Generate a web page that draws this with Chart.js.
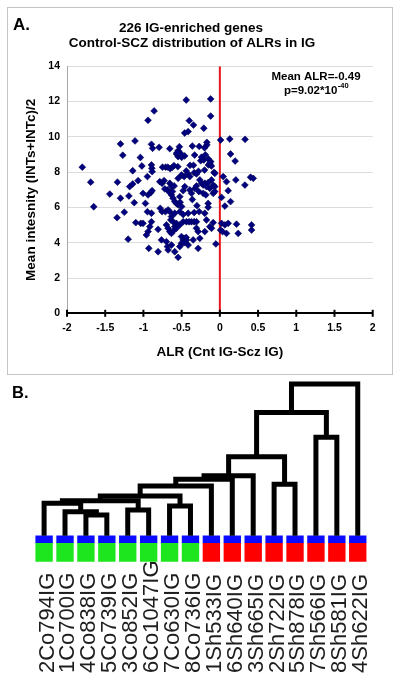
<!DOCTYPE html>
<html><head><meta charset="utf-8">
<script src="https://cdn.jsdelivr.net/npm/chart.js@4.4.1/dist/chart.umd.min.js"></script>
<style>
html,body{margin:0;padding:0;background:#fff;}
body{width:400px;height:682px;position:relative;overflow:hidden;}
#frameA{position:absolute;left:7px;top:7px;width:386px;height:368px;border:1px solid #c4c4c4;box-sizing:border-box;}
#ca{position:absolute;left:0;top:0;}
#cb{position:absolute;left:0;top:380px;}
</style></head><body>
<div id="frameA"></div>
<canvas id="ca" width="400" height="380"></canvas>
<canvas id="cb" width="400" height="302"></canvas>
<script>
// ---------- Panel A data: ALR (Cnt IG - Scz IG) vs mean intensity ----------
const alr = [
-1.30,-1.11,-1.27,-1.80,-1.14,-1.04,-0.44,-0.86,-0.94,-0.40,-0.345,-0.21,-0.415,-0.46,-0.895,-0.88,-0.795,-0.655,-0.53,-0.546,
-0.515,-0.567,-0.546,-0.50,-0.46,-0.36,-0.27,-0.17,-0.17,-0.20,-0.33,-0.19,-1.02,-0.895,-0.89,-0.75,-0.71,-0.68,-0.65,-0.62,
-0.25,-0.21,-0.12,-0.12,0.01,0.13,0.33,0.14,0.20,-0.15,-0.12,-0.20,-0.075,-0.15,-0.11,-0.39,-0.345,-0.55,-0.44,-0.28,
-0.886,-0.60,-0.13,
-1.69,-1.34,-1.18,-1.14,-1.07,-1.44,-1.30,-1.19,-1.12,-1.65,-1.25,-1.345,-1.10,-1.20,
-0.948,-0.786,-0.756,-0.730,-0.655,-0.633,-0.598,-0.546,-0.502,-0.467,-0.415,-0.393,-0.336,-0.306,-0.262,-0.240,-0.218,
-1.005,-0.939,-0.904,-0.887,-0.686,-0.655,-0.633,-0.612,-0.590,-0.568,-0.546,-0.524,-0.480,-0.459,-0.393,-0.371,-0.327,-0.306,-0.275,
-0.974,
-0.948,-0.895,-1.035,-1.005,-0.895,-0.917,-0.808,-0.939,-0.961,
-0.756,-0.712,-0.677,-0.655,-0.590,-0.524,
-0.633,-0.642,-0.612,-0.568,-0.480,-0.437,-0.402,-0.371,-0.336,-0.306,-0.415,-0.336,-0.271,
-0.699,-0.677,-0.655,-0.633,-0.598,-0.590,-0.524,-0.568,
-0.306,-0.284,
-0.764,-0.699,-0.686,-0.633,
-0.502,-0.480,-0.467,-0.459,-0.437,-0.502,-0.524,-0.415,
-0.930,-0.808,-0.677,-0.590,-0.546,
-0.349,-0.284,
-0.066,0.044,0.087,0.209,0.328,0.402,0.437,
-0.197,-0.153,-0.109,-0.087,-0.066,-0.131,-0.175,
-0.218,-0.183,-0.087,-0.066,
0.022,0.109,0.140,0.066,
-0.153,-0.153,-0.197,-0.175,
-0.087,-0.131,-0.109,-0.197,
0.022,0.066,0.109,0.009,0.035,0.087,0.218,0.415,0.415,0.240,
-0.262,-0.052,
-0.53,-0.56,-0.52,-0.50,-0.48,-0.44,-0.47,-0.62,-0.36,-0.78,-0.72,-0.30,-0.24
];
const meanIntensity = [
9.60,9.77,8.96,8.28,8.08,8.83,12.09,11.47,10.94,10.92,10.67,10.49,10.30,10.22,9.58,9.35,9.41,9.33,9.44,9.22,
9.07,9.03,8.88,8.84,8.92,9.48,9.46,9.69,9.54,9.38,8.97,8.98,8.35,8.41,8.22,8.28,8.28,8.28,8.20,8.28,
8.65,8.69,12.15,11.18,9.82,9.88,9.86,9.03,8.63,8.75,8.60,8.12,7.99,8.41,8.35,8.39,8.39,8.31,8.07,8.05,
8.03,8.37,8.52,
7.43,7.43,7.18,7.33,7.52,6.76,6.52,6.65,6.27,6.04,5.73,5.42,5.14,4.20,
7.75,7.46,7.37,7.52,7.37,7.18,7.22,7.65,7.84,7.75,7.90,7.75,7.97,7.90,7.56,7.37,7.27,
6.80,6.71,6.84,6.95,6.99,6.84,6.71,6.52,6.33,6.23,6.14,6.61,6.95,7.18,6.99,6.80,7.08,7.22,6.90,
6.23,
5.76,5.67,5.10,5.10,5.19,4.91,4.76,4.63,4.44,
5.76,5.76,5.86,5.76,5.67,5.76,
5.48,5.29,5.19,5.10,5.19,5.19,5.19,5.19,5.19,5.19,5.67,5.71,5.76,
5.01,4.82,4.63,4.53,4.72,4.91,5.01,4.82,
4.82,4.63,
4.16,4.06,3.78,3.87,
4.35,4.16,4.25,4.06,4.16,3.97,3.78,3.87,
3.68,3.49,3.59,3.49,3.17,
4.16,3.68,
7.93,7.75,7.46,7.56,7.27,7.71,7.65,
7.37,7.41,7.56,7.27,7.18,7.08,7.18,
6.80,6.71,6.80,6.90,
6.57,6.95,6.33,6.08,
6.23,6.01,5.67,5.29,
5.14,4.91,4.82,4.63,
5.10,5.01,5.10,4.72,4.63,4.53,5.05,5.01,4.72,4.53,
4.25,3.93,
8.98,9.10,6.30,6.05,5.60,4.30,4.00,6.90,6.45,5.95,7.05,6.10,8.85
];
const referenceALR = 0;          // red reference line position
const meanALR = -0.49;
const pValueMantissa = '9.02';
const pValueExponent = '-40';

// ---------- Panel B data: hierarchical clustering of samples ----------
const sampleNames = ['2Co794IG','1Co700IG','4Co838IG','5Co739IG','3Co852IG','6Co1047IG','7Co630IG','8Co736IG',
                     '1Sh533IG','6Sh640IG','3Sh665IG','2Sh722IG','5Sh878IG','7Sh566IG','8Sh581IG','4Sh622IG'];
const sampleGroup = ['Control','Control','Control','Control','Control','Control','Control','Control',
                     'SCZ','SCZ','SCZ','SCZ','SCZ','SCZ','SCZ','SCZ'];
// merges: node ids 0..15 are leaves, each merge creates node 16+k
const mergeLeft   = [2, 1, 0, 4, 6, 18, 21, 22, 23, 24, 11, 25, 13, 27, 29];
const mergeRight  = [3, 16, 17, 5, 7, 19, 20, 8, 9, 10, 12, 26, 14, 28, 15];
const mergeHeight = [0.136, 0.158, 0.214, 0.169, 0.196, 0.231, 0.262, 0.328, 0.372, 0.396, 0.339, 0.521, 0.649, 0.813, 1.0];

const FONT = '"Liberation Sans", Arial, Helvetica, sans-serif';

// ---------- Panel A ----------
const panelAText = {
  id: 'panelAText',
  afterDraw(chart) {
    const ctx = chart.ctx;
    const xs = chart.scales.x;
    const bottom = chart.chartArea.bottom;
    ctx.save();
    // cross tick marks on the x axis
    ctx.strokeStyle = '#000'; ctx.lineWidth = 2;
    xs.ticks.forEach(t => {
      const px = xs.getPixelForValue(t.value);
      ctx.beginPath(); ctx.moveTo(px, bottom - 3.5); ctx.lineTo(px, bottom + 3.5); ctx.stroke();
    });
    ctx.fillStyle = '#000';
    ctx.textBaseline = 'alphabetic';
    ctx.textAlign = 'left';
    ctx.font = 'bold 17px ' + FONT;
    ctx.fillText('A.', 13, 30);
    ctx.textAlign = 'center';
    ctx.textBaseline = 'middle';
    ctx.font = 'bold 13.5px ' + FONT;
    ctx.fillText('226 IG-enriched genes', 191, 28);
    ctx.fillText('Control-SCZ distribution of ALRs in IG', 192, 43);
    ctx.font = 'bold 11.5px ' + FONT;
    ctx.fillText('Mean ALR=' + meanALR, 316, 77);
    const main = 'p=' + pValueMantissa + '*10';
    const w1 = ctx.measureText(main).width;
    ctx.font = 'bold 7.5px ' + FONT;
    const w2 = ctx.measureText(pValueExponent).width;
    const start = 316 - (w1 + w2) / 2;
    ctx.textAlign = 'left';
    ctx.font = 'bold 11.5px ' + FONT;
    ctx.fillText(main, start, 91);
    ctx.font = 'bold 7.5px ' + FONT;
    ctx.fillText(pValueExponent, start + w1 + 0.5, 86);
    ctx.restore();
  }
};

new Chart(document.getElementById('ca'), {
  type: 'scatter',
  data: {
    datasets: [
      {
        label: 'IG-enriched genes',
        data: alr.map((x, i) => ({ x, y: meanIntensity[i] })),
        pointStyle: 'rectRot', pointRadius: 3.4, pointHoverRadius: 3.4,
        backgroundColor: '#000080', borderColor: '#000050', borderWidth: 0.6,
        order: 0
      },
      {
        type: 'line', label: 'ALR = 0',
        data: [{ x: referenceALR, y: 0 }, { x: referenceALR, y: 14 }],
        borderColor: '#e8141b', borderWidth: 2, pointRadius: 0, showLine: true, fill: false,
        order: 1
      }
    ]
  },
  options: {
    responsive: false, animation: false, events: [],
    layout: { padding: { left: 23, right: 27.3, top: 66.3, bottom: 19.9 } },
    plugins: { legend: { display: false }, tooltip: { enabled: false }, title: { display: false } },
    scales: {
      x: {
        type: 'linear', min: -2, max: 2,
        ticks: { stepSize: 0.5, color: '#000', padding: 9, font: { family: FONT, size: 10.5, weight: 'bold' },
                 callback: v => String(Math.round(v * 10) / 10) },
        grid: { display: false, drawTicks: false },
        border: { color: '#000', width: 2 },
        title: { display: true, text: 'ALR (Cnt IG-Scz IG)', color: '#000', padding: 0,
                 font: { family: FONT, size: 13.5, weight: 'bold' } },
        afterFit(s) { s.height = 46.8; }
      },
      y: {
        type: 'linear', min: 0, max: 14,
        ticks: { stepSize: 2, color: '#000', padding: 7, font: { family: FONT, size: 10.5, weight: 'bold' },
                 callback: v => String(Math.round(v)) },
        grid: { color: '#dcdcdc', lineWidth: 1, drawTicks: false },
        border: { color: '#a8a8a8', width: 1 },
        title: { display: true, text: 'Mean intesnity (INTs+INTc)/2', color: '#000', padding: 0,
                 font: { family: FONT, size: 13.5, weight: 'bold' } },
        afterFit(s) { s.width = 44; }
      }
    }
  },
  plugins: [panelAText]
});

// ---------- Panel B ----------
const nodeX = sampleNames.map((_, i) => i);
const nodeH = sampleNames.map(() => 0);
mergeLeft.forEach((l, k) => {
  const r = mergeRight[k];
  nodeX.push((nodeX[l] + nodeX[r]) / 2);
  nodeH.push(mergeHeight[k]);
});
const linkDatasets = mergeLeft.map((l, k) => {
  const r = mergeRight[k], h = mergeHeight[k];
  return {
    type: 'line', label: 'link ' + k,
    data: [{ x: nodeX[l], y: nodeH[l] }, { x: nodeX[l], y: h }, { x: nodeX[r], y: h }, { x: nodeX[r], y: nodeH[r] }],
    borderColor: '#000', borderWidth: 5, pointRadius: 0, tension: 0, fill: false, showLine: true,
    borderJoinStyle: 'miter', borderCapStyle: 'butt', clip: false
  };
});
const groupColor = { Control: '#1ee61e', SCZ: '#ff0000' };
const bandLow = -0.171, bandMid = -0.046, bandTop = 0;

const panelBText = {
  id: 'panelBText',
  afterDraw(chart) {
    const ctx = chart.ctx, xs = chart.scales.x;
    ctx.save();
    ctx.fillStyle = '#000';
    ctx.font = 'bold 16.5px ' + FONT;
    ctx.textAlign = 'left'; ctx.textBaseline = 'alphabetic';
    ctx.fillText('B.', 12, 18);
    ctx.font = '22px ' + FONT;
    ctx.fillStyle = '#1e1e1e';
    sampleNames.forEach((n, i) => {
      const px = xs.getPixelForValue(i);
      ctx.save();
      ctx.translate(px, 293);
      ctx.rotate(-Math.PI / 2);
      ctx.fillText(n, 0, 9.4);
      ctx.restore();
    });
    ctx.restore();
  }
};

new Chart(document.getElementById('cb'), {
  type: 'scatter',
  data: {
    datasets: [
      ...linkDatasets,
      {
        type: 'bar', label: 'marker',
        data: sampleNames.map((_, i) => ({ x: i, y: [bandMid, bandTop] })),
        backgroundColor: '#0a0aff', barThickness: 16.7, grouped: false, borderWidth: 0
      },
      {
        type: 'bar', label: 'group',
        data: sampleNames.map((_, i) => ({ x: i, y: [bandLow, bandMid] })),
        backgroundColor: sampleGroup.map(g => groupColor[g]), barThickness: 16.7, grouped: false, borderWidth: 0
      }
    ]
  },
  options: {
    responsive: false, animation: false, events: [],
    layout: { padding: { left: 9.75, right: 7.9, top: 1.0, bottom: 120.3 } },
    plugins: { legend: { display: false }, tooltip: { enabled: false } },
    scales: {
      x: { type: 'linear', min: -0.5, max: 15.5, display: false },
      y: { type: 'linear', min: bandLow, max: 1.02, display: false }
    }
  },
  plugins: [panelBText]
});
</script>
</body></html>
